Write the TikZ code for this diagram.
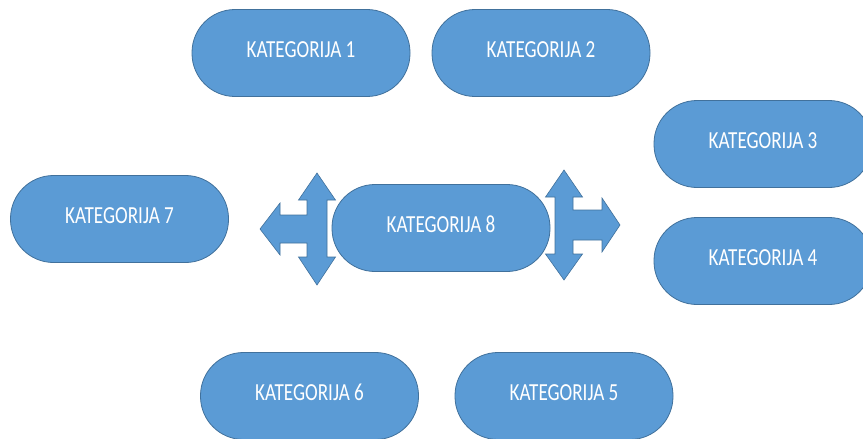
\documentclass[tikz,border=0pt]{standalone}
\usepackage{fontspec}
\newfontfamily\katfont[FakeStretch=0.78]{Carlito}
\definecolor{boxfill}{HTML}{5B9BD5}
\definecolor{boxline}{HTML}{41719C}
\tikzset{
  katbox/.style={draw=boxline, line width=0.8pt, fill=boxfill, rectangle,
    rounded corners=43pt, minimum width=218pt, minimum height=87pt,
    inner sep=0pt, text height=10pt, text depth=1.5pt, text=white,
    font=\katfont\fontsize{24.5}{26}\selectfont},
  bigarrow/.style={draw=boxline, line width=0.6pt, fill=boxfill, line join=miter}
}
\begin{document}
\begin{tikzpicture}[x=1pt,y=-1pt]
\useasboundingbox (0,0) rectangle (863,439);
\clip (0,0) rectangle (863,439);
\node[katbox] (k1) at (301,53) {KATEGORIJA 1};
\node[katbox] (k2) at (541,53) {KATEGORIJA 2};
\node[katbox] (k3) at (763,144) {KATEGORIJA 3};
\node[katbox] (k4) at (763,261) {KATEGORIJA 4};
\node[katbox] (k7) at (119.5,219) {KATEGORIJA 7};
\node[katbox] (k8) at (441,228) {KATEGORIJA 8};
\node[katbox] (k6) at (309.5,396) {KATEGORIJA 6};
\node[katbox] (k5) at (564,396) {KATEGORIJA 5};
% left-up-down arrow
\draw[bigarrow] (260,229) -- (280,203) -- (280,215) -- (307,215) -- (307,200)
  -- (298.5,200) -- (317,173) -- (335.5,200) -- (327,200) -- (327,257)
  -- (335.5,257) -- (317,285) -- (298.5,257) -- (307,257) -- (307,243)
  -- (280,243) -- (280,255) -- cycle;
% right-up-down arrow
\draw[bigarrow] (620,225) -- (602,252) -- (602,240) -- (573,240) -- (573,254)
  -- (582.5,254) -- (564,280) -- (545.5,254) -- (555,254) -- (555,197)
  -- (545.5,197) -- (564,170) -- (582.5,197) -- (573,197) -- (573,210)
  -- (602,210) -- (602,198) -- cycle;
\end{tikzpicture}
\end{document}
